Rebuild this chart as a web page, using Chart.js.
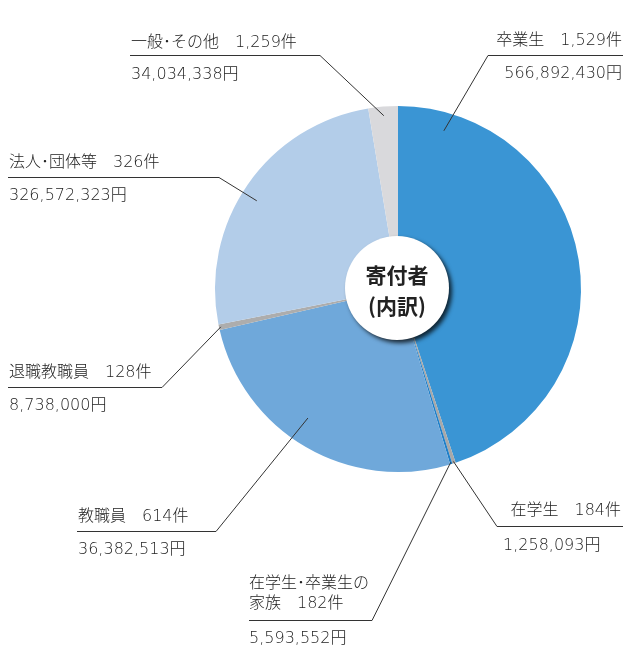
<!DOCTYPE html>
<html lang="ja">
<head>
<meta charset="utf-8">
<script src="https://cdn.jsdelivr.net/npm/chart.js@4"></script>
<style>
  html, body { margin: 0; padding: 0; background: #ffffff; }
  #wrap { width: 623px; height: 648px; position: relative; }
</style>
</head>
<body>
<div id="wrap"><canvas id="donorChart"></canvas></div>
<script>
// 寄付者（内訳）
const categories = ["卒業生", "在学生", "在学生・卒業生の家族", "教職員", "退職教職員", "法人・団体等", "一般・その他"];
const counts = ["1,529", "184", "182", "614", "128", "326", "1,259"];
const amounts = ["566,892,430", "1,258,093", "5,593,552", "36,382,513", "8,738,000", "326,572,323", "34,034,338"];
// slice share (%)
const shares = [44.9, 0.3, 0.2, 26.0, 0.5, 25.5, 2.6];
const colors = ["#3a95d4", "#a8a8a8", "#1f7fc8", "#6fa8da", "#adadad", "#b3cde9", "#d9d9dc"];

// label placement: text lines, underline, where the leader meets the slice
const labelLayout = [
  { lines: ["卒業生　" + counts[0] + "件"], align: "right", x: 622, y: 41, lineX: [488, 623], lineY: 55.5, joinX: 488, amtY: 74, amtX: 622, frac: 0.1, r: 0.9 },
  { lines: ["在学生　" + counts[1] + "件"], align: "right", x: 621, y: 511, lineX: [497, 623], lineY: 526.5, joinX: 497, amtY: 546, amtX: 503, amtAlign: "left", frac: 0.5, r: 0.99 },
  { lines: ["在学生･卒業生の", "家族　" + counts[2] + "件"], align: "left", x: 249, y: 584, lineX: [249, 372], lineY: 620.5, joinX: 372, amtY: 639, amtX: 249, frac: 0.5, r: 0.99 },
  { lines: ["教職員　" + counts[3] + "件"], align: "left", x: 78, y: 517, lineX: [77, 216], lineY: 531.5, joinX: 216, amtY: 550, amtX: 78, frac: 0.55, r: 0.86 },
  { lines: ["退職教職員　" + counts[4] + "件"], align: "left", x: 9, y: 373, lineX: [8, 162], lineY: 387.5, joinX: 162, amtY: 406, amtX: 9, frac: 0.5, r: 0.99 },
  { lines: ["法人･団体等　" + counts[5] + "件"], align: "left", x: 9, y: 163, lineX: [8, 219], lineY: 177.5, joinX: 219, amtY: 196, amtX: 9, frac: 0.47, r: 0.91 },
  { lines: ["一般･その他　" + counts[6] + "件"], align: "left", x: 131, y: 43, lineX: [130, 320], lineY: 55.5, joinX: 320, amtY: 75, amtX: 131, frac: 0.5, r: 0.95 }
];

const FONT = '"DejaVu Sans", "Noto Sans CJK JP", sans-serif';
const CENTER_FONT = '"Noto Sans CJK JP", sans-serif';

const calloutPlugin = {
  id: "callouts",
  afterDatasetsDraw(chart) {
    const ctx = chart.ctx;
    const arcs = chart.getDatasetMeta(0).data;
    ctx.save();
    ctx.strokeStyle = "#333333";
    ctx.lineWidth = 1;
    ctx.fillStyle = "#222222";
    ctx.font = "300 16px " + FONT;
    ctx.textBaseline = "middle";
    labelLayout.forEach(function (lay, i) {
      const arc = arcs[i];
      const a = arc.startAngle + (arc.endAngle - arc.startAngle) * lay.frac;
      const ax = arc.x + Math.cos(a) * arc.outerRadius * lay.r;
      const ay = arc.y + Math.sin(a) * arc.outerRadius * lay.r;
      ctx.beginPath();
      ctx.moveTo(lay.lineX[0], lay.lineY);
      ctx.lineTo(lay.lineX[1], lay.lineY);
      ctx.moveTo(lay.joinX, lay.lineY);
      ctx.lineTo(ax, ay);
      ctx.stroke();
      ctx.textAlign = lay.align;
      lay.lines.forEach(function (t, k) {
        ctx.fillText(t, lay.x, lay.y + k * 20);
      });
      ctx.textAlign = lay.amtAlign || lay.align;
      ctx.fillText(amounts[i] + "円", lay.amtX, lay.amtY);
    });
    ctx.restore();
  },
  afterDraw(chart) {
    const ctx = chart.ctx;
    const arc = chart.getDatasetMeta(0).data[0];
    const cx = arc.x - 1, cy = arc.y - 1;
    ctx.save();
    ctx.shadowColor = "rgba(0, 0, 0, 0.75)";
    ctx.shadowBlur = 4;
    ctx.shadowOffsetX = 3;
    ctx.shadowOffsetY = 3;
    ctx.fillStyle = "#ffffff";
    ctx.beginPath();
    ctx.arc(cx, cy, 52, 0, Math.PI * 2);
    ctx.fill();
    ctx.restore();
    ctx.save();
    ctx.fillStyle = "#222222";
    ctx.font = "bold 21px " + CENTER_FONT;
    ctx.textAlign = "center";
    ctx.textBaseline = "middle";
    ctx.fillText("寄付者", cx, cy - 13);
    ctx.fillText("(内訳)", cx, cy + 18);
    ctx.restore();
  }
};

new Chart(document.getElementById("donorChart"), {
  type: "pie",
  data: {
    labels: categories,
    datasets: [
      {
        data: shares,
        backgroundColor: colors,
        borderWidth: 0,
        hoverOffset: 0
      }
    ]
  },
  options: {
    responsive: true,
    maintainAspectRatio: false,
    animation: false,
    layout: {
      padding: { left: 215, right: 42, top: 106, bottom: 176 }
    },
    plugins: {
      legend: { display: false },
      tooltip: { enabled: false }
    }
  },
  plugins: [calloutPlugin]
});
</script>
</body>
</html>
